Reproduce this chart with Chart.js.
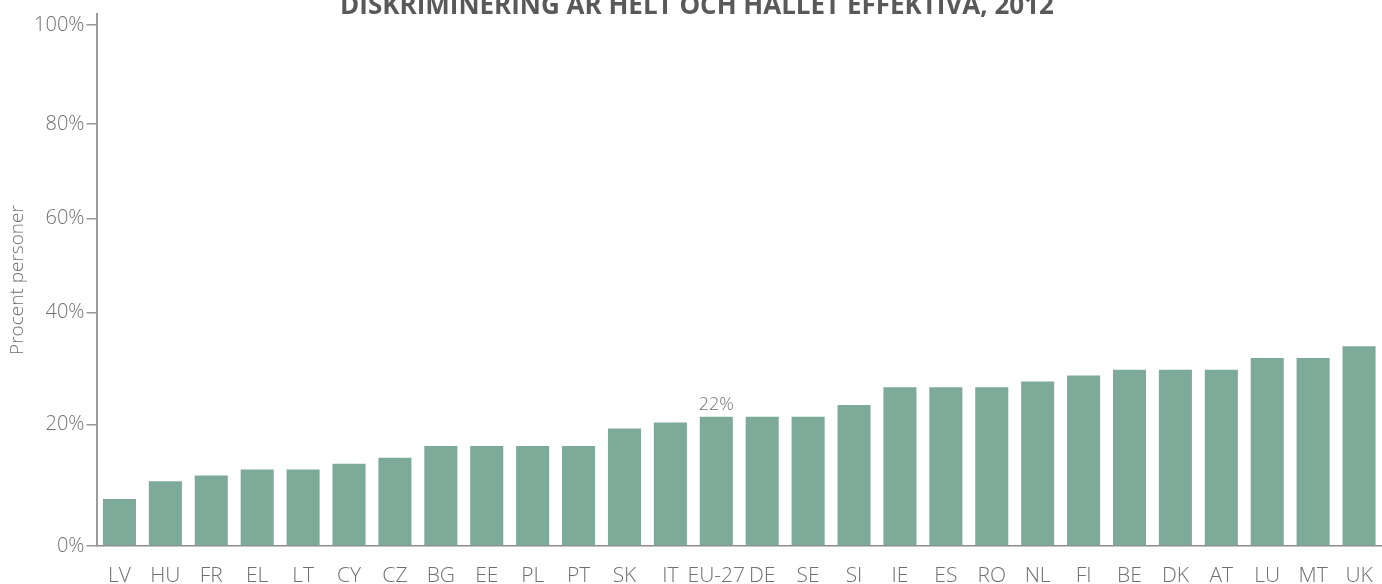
<!DOCTYPE html>
<html>
<head>
<meta charset="utf-8">
<script src="https://cdn.jsdelivr.net/npm/chart.js@4.4.1/dist/chart.umd.min.js"></script>
<style>
  html, body { margin: 0; padding: 0; background: #fff; }
  #wrap { width: 1382px; height: 584px; }
</style>
</head>
<body>
<div id="wrap"><canvas id="grafico" width="1382" height="584"></canvas></div>
<script>
const paises = ["LV", "HU", "FR", "EL", "LT", "CY", "CZ", "BG", "EE", "PL", "PT", "SK", "IT", "EU-27",
  "DE", "SE", "SI", "IE", "ES", "RO", "NL", "FI", "BE", "DK", "AT", "LU", "MT", "UK"];
const andel = [8, 11, 12, 13, 13, 14, 15, 17, 17, 17, 17, 20, 21, 22,
  22, 22, 24, 27, 27, 27, 28, 29, 30, 30, 30, 32, 32, 34];

// the printed axis in the source is not evenly spaced against the bars,
// so the labels sit where the picture puts them on the bar scale
const tickLabels = ["0%", "20%", "40%", "60%", "80%", "100%"];
const tickValues = [0, 20.7, 39.7, 55.7, 71.8, 88.6];

const titel = "DISKRIMINERING ÄR HELT OCH HÅLLET EFFEKTIVA, 2012";
const markerad = "EU-27";

const fonte = "'Open Sans', 'DejaVu Sans', sans-serif";
const cinza = "#707070";

const tituloPlugin = {
  id: "tituloTopo",
  afterDraw(chart) {
    const ctx = chart.ctx;
    ctx.save();
    ctx.font = "bold 26px " + fonte;
    ctx.fillStyle = "#595959";
    ctx.textAlign = "center";
    ctx.textBaseline = "alphabetic";
    ctx.fillText(titel, chart.width / 2 + 6, 14);
    ctx.restore();
  },
};

const rotuloPlugin = {
  id: "rotuloBarra",
  afterDatasetsDraw(chart) {
    const idx = paises.indexOf(markerad);
    const bar = chart.getDatasetMeta(0).data[idx];
    if (!bar) return;
    const ctx = chart.ctx;
    ctx.save();
    ctx.font = "300 18px " + fonte;
    ctx.fillStyle = cinza;
    ctx.textAlign = "center";
    ctx.textBaseline = "alphabetic";
    ctx.fillText(andel[idx] + "%", bar.x, bar.y - 7);
    ctx.restore();
  },
};

const ctx = document.getElementById("grafico").getContext("2d");
new Chart(ctx, {
  type: "bar",
  data: {
    labels: paises,
    datasets: [
      {
        data: andel,
        backgroundColor: "#7eaa9a",
        borderWidth: 0,
        barPercentage: 0.72,
        categoryPercentage: 1,
      },
    ],
  },
  options: {
    responsive: false,
    animation: false,
    layout: { padding: { top: 13, right: 0, left: 0, bottom: 0 } },
    plugins: {
      legend: { display: false },
      tooltip: { enabled: false },
      title: { display: false },
    },
    scales: {
      x: {
        grid: { display: false, drawTicks: false },
        border: { display: true, color: "#8c8c8c", width: 1.5 },
        ticks: {
          color: cinza,
          font: { family: fonte, size: 21, weight: "300" },
          padding: 17,
          maxRotation: 0,
          autoSkip: false,
        },
        afterFit: (scale) => {
          scale.height = 38;
          scale.paddingLeft = 0;
          scale.paddingRight = 0;
        },
      },
      y: {
        min: 0,
        max: 90.5,
        afterBuildTicks: (scale) => {
          scale.ticks = tickValues.map((v) => ({ value: v }));
        },
        grid: {
          drawOnChartArea: false,
          drawTicks: true,
          tickLength: 10,
          color: "#999",
          lineWidth: 1.5,
        },
        border: { display: true, color: "#9a9a9a", width: 2 },
        ticks: {
          color: cinza,
          font: { family: fonte, size: 20, weight: "300" },
          padding: 2,
          callback: (value, i) => tickLabels[i],
        },
        title: {
          display: true,
          text: "Procent personer",
          color: cinza,
          font: { family: fonte, size: 19, weight: "300" },
          padding: { top: 6, bottom: 0 },
        },
        afterFit: (scale) => {
          scale.width = 96.5;
        },
      },
    },
  },
  plugins: [tituloPlugin, rotuloPlugin],
});
</script>
</body>
</html>
